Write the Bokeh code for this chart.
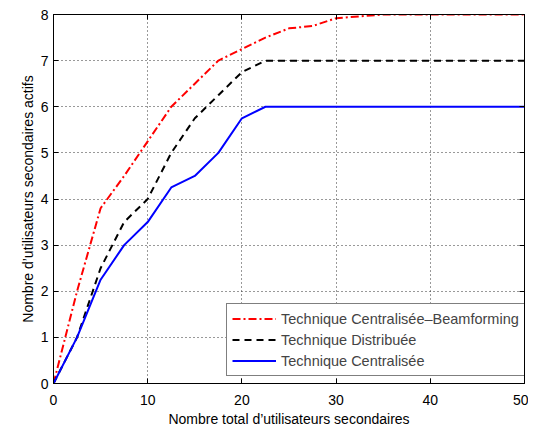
from bokeh.plotting import figure
from bokeh.models import Legend, LegendItem, LinearAxis, FixedTicker, Range1d
from bokeh.embed import file_html
from bokeh.resources import INLINE

x_vals = [0, 2.5, 5, 7.5, 10, 12.5, 15, 17.5, 20, 22.5, 25, 27.5, 30, 32.5, 35, 37.5, 40, 42.5, 45, 47.5, 50]
beamforming = [0, 2.0, 3.8, 4.5, 5.25, 6.0, 6.5, 7.0, 7.25, 7.5, 7.7, 7.75, 7.92, 7.96, 8, 8, 8, 8, 8, 8, 8]
distribuee = [0, 1.0, 2.5, 3.5, 4.0, 5.0, 5.75, 6.25, 6.75, 7.0, 7, 7, 7, 7, 7, 7, 7, 7, 7, 7, 7]
centralisee = [0, 1.0, 2.25, 3.0, 3.5, 4.25, 4.5, 5.0, 5.75, 6.0, 6, 6, 6, 6, 6, 6, 6, 6, 6, 6, 6]
labels = ["Technique Centralisée\u2013Beamforming", "Technique Distribuée", "Technique Centralisée"]
x_ticks = [0, 10, 20, 30, 40, 50]
y_ticks = [0, 1, 2, 3, 4, 5, 6, 7, 8]
x_title = "Nombre total d\u2019utilisateurs secondaires"
y_title = "Nombre d\u2019utilisateurs secondaires actifs"

FONT = "Liberation Sans"

p = figure(width=528, height=429, output_backend="svg", toolbar_location=None,
           x_range=Range1d(0, 50), y_range=Range1d(0, 8),
           min_border_left=53, min_border_top=14, min_border_right=4, min_border_bottom=46)
p.background_fill_color = "white"
p.border_fill_color = "white"
p.outline_line_color = "black"
p.outline_line_width = 1

r1 = p.line(x_vals, beamforming, line_color="#ff0000", line_width=2, line_dash="8 3 2 3")
r2 = p.line(x_vals, distribuee, line_color="black", line_width=2, line_dash="7 5")
r3 = p.line(x_vals, centralisee, line_color="#0000ff", line_width=2)

for ax in (p.xaxis[0], p.yaxis[0]):
    ax.major_tick_in = 5
    ax.major_tick_out = 0
    ax.minor_tick_line_color = None
    ax.axis_line_color = "black"
    ax.major_tick_line_color = "black"
    ax.major_label_text_font = FONT
    ax.major_label_text_font_size = "14px"
    ax.major_label_text_color = "black"
    ax.axis_label_text_font = FONT
    ax.axis_label_text_font_size = "14px"
    ax.axis_label_text_font_style = "normal"
    ax.axis_label_text_color = "black"

p.xaxis[0].ticker = FixedTicker(ticks=x_ticks)
p.yaxis[0].ticker = FixedTicker(ticks=y_ticks)
p.xaxis[0].axis_label = x_title
p.yaxis[0].axis_label = y_title
p.xaxis[0].major_label_standoff = 11
p.xaxis[0].axis_label_standoff = 3
p.yaxis[0].major_label_standoff = 5
p.yaxis[0].axis_label_standoff = 2

top = LinearAxis(ticker=FixedTicker(ticks=x_ticks), major_label_overrides={t: "" for t in x_ticks},
                 major_label_standoff=0, major_tick_in=5, major_tick_out=0,
                 minor_tick_line_color=None)
right = LinearAxis(ticker=FixedTicker(ticks=y_ticks), major_label_overrides={t: "" for t in y_ticks},
                   major_label_standoff=0, major_tick_in=5, major_tick_out=0,
                   minor_tick_line_color=None)
p.add_layout(top, "above")
p.add_layout(right, "right")

p.xgrid.ticker = FixedTicker(ticks=x_ticks)
p.ygrid.ticker = FixedTicker(ticks=y_ticks)
for g in (p.xgrid[0], p.ygrid[0]):
    g.grid_line_color = "#333333"
    g.grid_line_dash = "1 3"
    g.grid_line_width = 1

legend = Legend(items=[LegendItem(label=labels[0], renderers=[r1]),
                       LegendItem(label=labels[1], renderers=[r2]),
                       LegendItem(label=labels[2], renderers=[r3])],
                location=(173, 7), margin=0, padding=5, spacing=2,
                glyph_width=44, glyph_height=19, label_height=19, label_standoff=5,
                label_text_font=FONT, label_text_font_size="14.5px",
                border_line_color="black", border_line_width=1,
                background_fill_alpha=1.0)
p.add_layout(legend, "center")

open("out.html", "w").write(file_html(p, INLINE))
